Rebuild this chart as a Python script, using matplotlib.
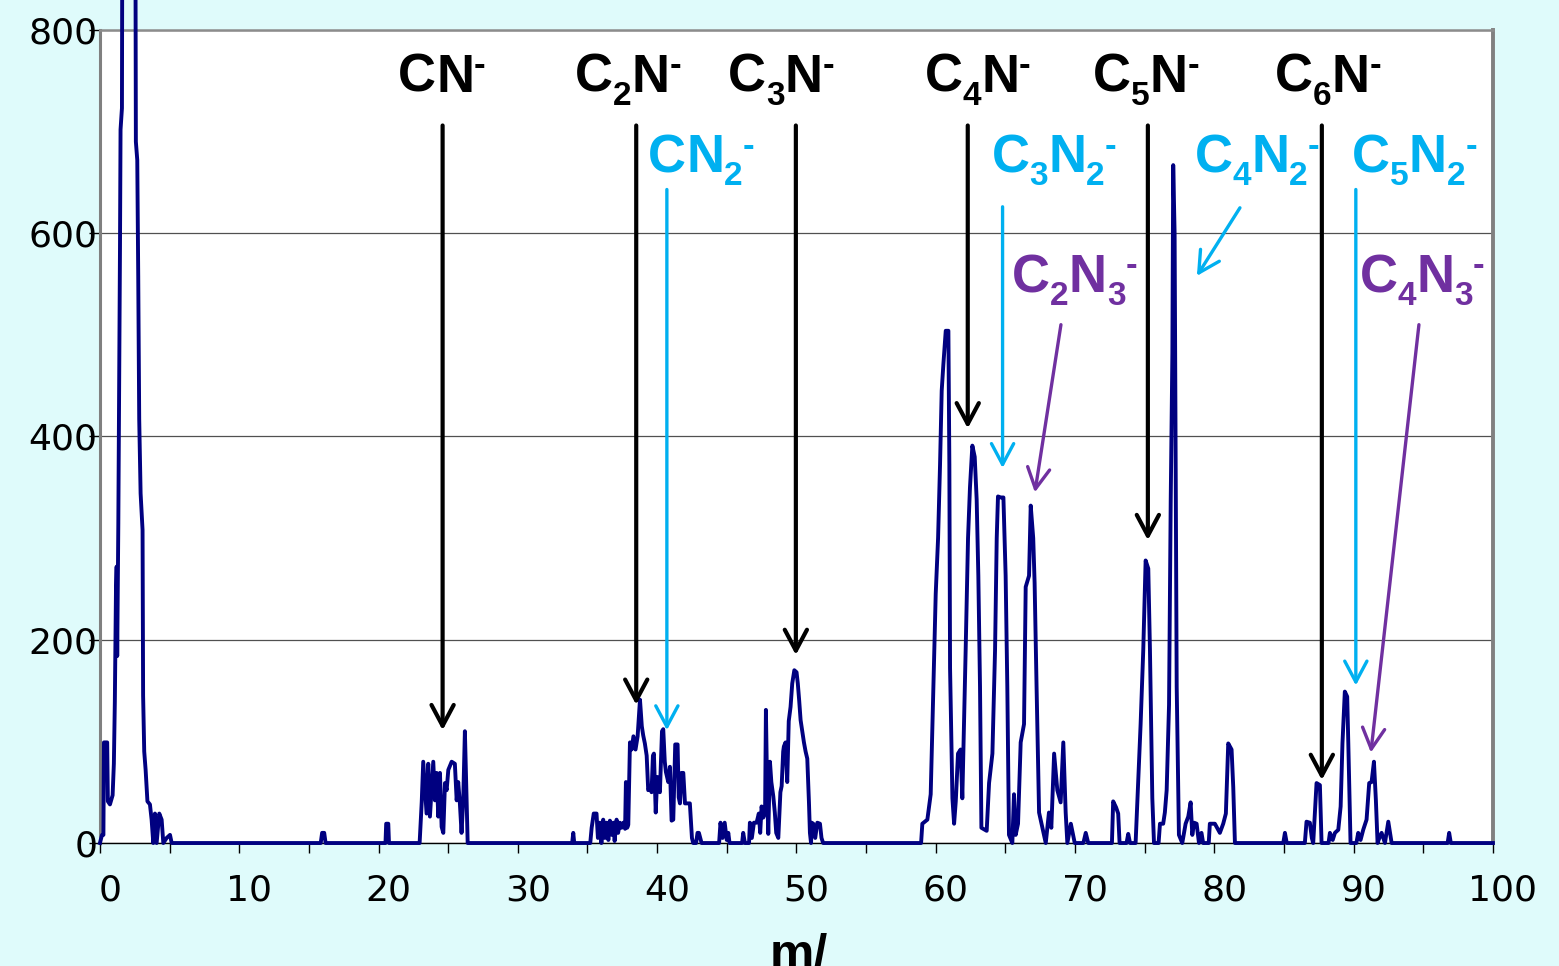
import matplotlib
matplotlib.use("Agg")
import matplotlib.pyplot as plt
import matplotlib.transforms as mtransforms
import numpy as np

# spectrum trace, cluster by cluster (m/z, counts)
low_mz = [0.0, 0.15, 0.25, 0.29, 0.52, 0.57, 0.72, 0.91, 1.0, 1.07, 1.15, 1.2, 1.24, 1.32,
          1.39, 1.44, 1.48, 1.58, 1.65, 2.5, 2.58, 2.68, 2.75, 2.82, 2.92, 3.06, 3.1, 3.18,
          3.28, 3.41, 3.59, 3.71, 3.83, 3.95, 4.07, 4.26, 4.43, 4.55, 4.79, 5.03, 5.15]
low_int = [0, 8, 8, 99, 99, 41, 38, 47, 78, 139, 247, 272, 184, 314,
           466, 587, 702, 723, 1200, 1200, 690, 672, 557, 417, 344, 308, 145, 90,
           72, 41, 38, 23, 0, 29, 0, 29, 23, 0, 5, 8, 0]

small_mz = [15.85, 15.95, 16.1, 16.2, 20.5, 20.55, 20.7, 20.75]
small_int = [0, 10, 10, 0, 0, 19, 19, 0]

cn_mz = [22.95, 23.1, 23.21, 23.45, 23.57, 23.69, 23.93, 24.05, 24.17, 24.29, 24.41, 24.53,
         24.65, 24.77, 24.89, 25.01, 25.25, 25.48, 25.61, 25.72, 25.84, 25.96, 26.08, 26.2,
         26.32, 26.4]
cn_int = [0, 40, 80, 29, 78, 26, 80, 42, 69, 26, 69, 16,
          10, 59, 52, 72, 80, 78, 42, 60, 39, 10, 42, 110,
          42, 0]

c2n_mz = [33.9, 33.98, 34.05, 35.2, 35.3, 35.45, 35.65, 35.75, 35.89, 36.0, 36.13, 36.25,
          36.37, 36.5, 36.61, 36.75, 36.85, 36.95, 37.09, 37.2, 37.33, 37.45, 37.57, 37.7,
          37.76, 37.85, 37.93, 38.05, 38.17, 38.3, 38.45, 38.6, 38.77, 38.9, 39.0, 39.12,
          39.25, 39.36, 39.5, 39.6, 39.7, 39.77, 39.9, 40.01, 40.2, 40.35, 40.44, 40.55,
          40.63, 40.8, 40.92, 41.04, 41.16, 41.3, 41.47, 41.55, 41.64, 41.75, 41.88, 42.0,
          42.11, 42.35, 42.5, 42.59, 42.8, 42.9, 43.0, 43.19,
          44.45, 44.55, 44.7, 44.85, 45.0, 45.11, 45.2]
c2n_int = [0, 10, 0, 0, 15, 29, 29, 5, 20, 0, 23, 5,
           20, 3, 22, 8, 20, 2, 23, 10, 20, 15, 20, 14,
           60, 15, 18, 99, 92, 105, 92, 105, 141, 115, 106, 98,
           86, 52, 55, 50, 86, 88, 30, 65, 50, 110, 112, 80,
           70, 60, 75, 22, 23, 97, 97, 45, 39, 69, 69, 39,
           39, 39, 5, 0, 0, 10, 10, 0,
           0, 20, 5, 20, 3, 10, 0]

c3n_mz = [46.1, 46.18, 46.3, 46.6, 46.66, 46.8, 46.95, 47.14, 47.3, 47.4, 47.5, 47.62,
          47.75, 47.81, 47.9, 47.98, 48.1, 48.2, 48.34, 48.45, 48.55, 48.7, 48.85, 48.94,
          49.05, 49.1, 49.22, 49.34, 49.45, 49.58, 49.7, 49.85, 50.01, 50.1, 50.2, 50.3,
          50.42, 50.54, 50.66, 50.78, 50.9, 50.97, 51.05, 51.1, 51.21, 51.35, 51.5, 51.69,
          51.8, 51.92]
c3n_int = [0, 10, 0, 0, 20, 5, 20, 20, 29, 10, 36, 25,
           30, 131, 50, 9, 80, 60, 46, 30, 10, 5, 50, 56,
           90, 95, 99, 60, 120, 134, 157, 170, 168, 157, 140, 121,
           110, 99, 90, 83, 40, 10, 0, 20, 19, 5, 20, 19,
           5, 0]

c4n_mz = [58.95, 59.04, 59.4, 59.64, 59.83, 60.0, 60.17, 60.31, 60.43, 60.55, 60.72, 60.91,
          60.98, 61.03, 61.2, 61.32, 61.44, 61.6, 61.79, 61.91, 62.03, 62.15, 62.32, 62.46,
          62.63, 62.8, 62.94, 63.06, 63.18, 63.28, 63.66, 63.83, 64.07, 64.26, 64.38, 64.47,
          64.67, 64.86, 65.02, 65.14, 65.26, 65.5, 65.62, 65.74, 65.91, 66.1, 66.34, 66.46,
          66.7, 66.82, 67.0, 67.1, 67.24, 67.42, 67.66, 67.9, 68.13, 68.3, 68.5, 68.73,
          68.97, 69.16, 69.33, 69.45, 69.7, 69.98, 70.6, 70.77, 70.95]
c4n_int = [0, 19, 23, 48, 154, 245, 300, 372, 445, 471, 504, 504,
           372, 172, 44, 19, 41, 88, 92, 44, 117, 190, 300, 350,
           391, 380, 338, 263, 154, 15, 12, 59, 88, 190, 300, 341,
           340, 340, 263, 154, 8, 0, 48, 8, 19, 99, 117, 252,
           263, 332, 300, 256, 154, 30, 15, 0, 30, 15, 88, 52,
           40, 99, 30, 0, 19, 0, 0, 10, 0]

c5n_mz = [72.65, 72.74, 72.95, 73.1, 73.2, 73.7, 73.82, 73.95, 74.35, 74.71, 74.9, 75.07,
          75.26, 75.38, 75.55, 75.67, 76.0, 76.1, 76.33, 76.45, 76.58, 76.75, 76.87, 76.99,
          77.05, 77.15, 77.3, 77.46, 77.7, 77.94, 78.13, 78.3, 78.42, 78.55, 78.73, 78.9,
          79.08, 79.2, 79.6, 79.68, 79.86, 80.04, 80.2, 80.4, 80.64, 80.83, 81.0, 81.24,
          81.36, 81.48]
c5n_int = [0, 41, 35, 29, 0, 0, 9, 0, 0, 117, 190, 278,
           270, 190, 44, 0, 0, 19, 19, 30, 52, 136, 336, 482,
           667, 600, 154, 8, 0, 19, 26, 40, 8, 20, 19, 0,
           10, 0, 0, 19, 19, 19, 15, 10, 19, 29, 98, 92,
           55, 0]

c6n_mz = [84.95, 85.07, 85.2, 86.5, 86.62, 86.86, 87.0, 87.1, 87.34, 87.58, 87.7, 88.2,
          88.3, 88.5, 88.66, 88.9, 89.07, 89.2, 89.37, 89.54, 89.62, 89.78, 90.2, 90.33,
          90.5, 90.69, 90.93, 91.12, 91.29, 91.46, 91.6, 91.72, 91.85, 92.01, 92.25, 92.49,
          92.73, 96.75, 96.86, 96.98]
c6n_int = [0, 10, 0, 0, 21, 20, 5, 0, 59, 57, 0, 0,
           10, 3, 10, 13, 36, 98, 149, 144, 98, 0, 0, 10,
           3, 13, 23, 59, 60, 80, 42, 0, 5, 10, 0, 21,
           0, 0, 10, 0]

mz = np.array([0] + low_mz + small_mz + cn_mz + c2n_mz + c3n_mz + c4n_mz + c5n_mz + c6n_mz + [100])
counts = np.array([0] + low_int + small_int + cn_int + c2n_int + c3n_int + c4n_int + c5n_int + c6n_int + [0])

# ion labels: formula (_ = subscript, ^ = superscript), colour, text spot, arrow tail, arrow tip
black = "black"
cyan = "#00B0F0"
purple = "#7030A0"
ions = [
    ("CN^-", black, (21.4, 739), (24.6, 706), (24.6, 111)),
    ("C_2N^-", black, (34.1, 739), (38.5, 706), (38.5, 136)),
    ("C_3N^-", black, (45.1, 739), (49.96, 706), (49.96, 185)),
    ("C_4N^-", black, (59.2, 739), (62.3, 706), (62.3, 408)),
    ("C_5N^-", black, (71.3, 739), (75.23, 706), (75.23, 298)),
    ("C_6N^-", black, (84.35, 739), (87.72, 706), (87.72, 62)),
    ("CN_2^-", cyan, (39.35, 660), (40.7, 643), (40.7, 111)),
    ("C_3N_2^-", cyan, (64.0, 660), (64.8, 626), (64.8, 369)),
    ("C_4N_2^-", cyan, (78.6, 660), (81.84, 625), (78.75, 558)),
    ("C_5N_2^-", cyan, (89.9, 660), (90.16, 643), (90.16, 155)),
    ("C_2N_3^-", purple, (65.5, 542), (68.99, 510), (67.12, 345)),
    ("C_4N_3^-", purple, (90.45, 542), (94.69, 510), (91.24, 89)),
]

bg = "#DFFBFB"
fig = plt.figure(figsize=(15.59, 9.66), dpi=100, facecolor=bg)
ax = fig.add_axes([0.0641, 0.1273, 0.8935, 0.8417])
ax.set_facecolor("white")

ax.plot(mz, counts, color="#000080", lw=2.8, clip_on=False, zorder=3)

ax.set_xlim(0, 100)
ax.set_ylim(0, 800)
ax.set_xticks(np.arange(0, 101, 10))
ax.set_xticks(np.arange(5, 100, 10), minor=True)
ax.set_yticks([0, 200, 400, 600, 800])
ax.yaxis.grid(True, color="#505050", lw=0.9)
ax.set_axisbelow(True)
ax.tick_params(axis="x", which="both", direction="out", length=7, width=1, pad=15,
               labelsize=26, color="black")
ax.tick_params(axis="y", direction="out", length=8, width=1, pad=-6, labelsize=26,
               color="black")
for lab in ax.get_xticklabels() + ax.get_yticklabels():
    lab.set_family("DejaVu Sans")
offset = mtransforms.ScaledTranslation(0.1, 0, fig.dpi_scale_trans)
for lab in ax.get_xticklabels():
    lab.set_transform(lab.get_transform() + offset)

ax.spines["top"].set_color("#8C8C8C")
ax.spines["top"].set_linewidth(1.8)
ax.spines["left"].set_color("#808080")
ax.spines["left"].set_linewidth(2.2)
ax.spines["right"].set_color("#808080")
ax.spines["right"].set_linewidth(2.8)
ax.spines["bottom"].set_color("black")
ax.spines["bottom"].set_linewidth(1)

renderer = fig.canvas.get_renderer()
# (font size, vertical shift in points) for normal, subscript and superscript pieces
styles = {"n": (38, 0), "_": (24, -9.5), "^": (25, 12)}


def draw_formula(formula, col, xy):
    pieces = []
    i = 0
    while i < len(formula):
        ch = formula[i]
        if ch in "_^":
            pieces.append((formula[i + 1], ch))
            i += 2
        else:
            pieces.append((ch, "n"))
            i += 1
    dx = 0.0
    for s, kind in pieces:
        size, dy = styles[kind]
        t = ax.annotate(s, xy=xy, xytext=(dx, dy), textcoords="offset points",
                        fontsize=size, fontweight="bold", family="Liberation Sans",
                        color=col, ha="left", va="baseline", zorder=5,
                        annotation_clip=False)
        dx += t.get_window_extent(renderer).width * 72 / fig.dpi


for formula, col, txy, tail, tip in ions:
    draw_formula(formula, col, txy)
    lw = 3.0 if col == black else 2.4
    ax.annotate("", xy=tip, xytext=tail,
                arrowprops=dict(arrowstyle="->,head_length=0.75,head_width=0.4",
                                color=col, lw=lw, mutation_scale=20,
                                shrinkA=0, shrinkB=0),
                zorder=4)

fig.text(770 / 1559, -2 / 966, "m/", fontsize=36, fontweight="bold",
         family="Liberation Sans", ha="left", va="baseline")

fig.savefig("out.png", dpi=100, facecolor=bg)
